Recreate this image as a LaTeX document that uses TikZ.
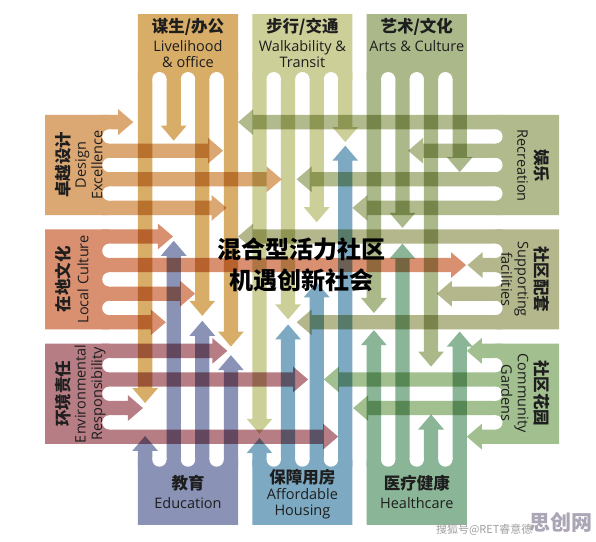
\documentclass[tikz,border=0pt]{standalone}
\usepackage{fontspec}
\setmainfont{Open Sans}
\newfontfamily\cjk{Noto Sans CJK SC}
\usepackage{tikz}
\usetikzlibrary{positioning}

\definecolor{ink}{HTML}{1E1E1E}
\definecolor{cLive}{HTML}{D8AD68}
\definecolor{cWalk}{HTML}{CDCF98}
\definecolor{cArts}{HTML}{ABB98A}
\definecolor{cDesign}{HTML}{DBA772}
\definecolor{cLocal}{HTML}{D99070}
\definecolor{cEnv}{HTML}{B77D85}
\definecolor{cRec}{HTML}{B0BA8C}
\definecolor{cSupp}{HTML}{B3B78B}
\definecolor{cGard}{HTML}{A2BF8F}
\definecolor{cEdu}{HTML}{8A92B6}
\definecolor{cHouse}{HTML}{7DAAC2}
\definecolor{cHealth}{HTML}{8AB596}
\definecolor{wmark}{HTML}{ABA5B5}

% arrow head length / half width
\def\hl{1.05}
\def\hw{0.9}

\begin{document}
\begin{tikzpicture}[
  x=14.3pt, y=-14.3pt,
  zh/.style={font=\cjk\bfseries\fontsize{16.5}{18}\selectfont, text=ink, inner sep=0pt},
  en/.style={font=\fontsize{14.5}{16.5}\selectfont, text=ink, align=center, inner sep=0pt},
  hub/.style={font=\cjk\bfseries\fontsize{24}{31}\selectfont, text=black, align=center, inner sep=0pt}
]
\fill[white] (-9.65,-8.04) rectangle (32.03,29.86);

\begin{scope}[blend mode=multiply]
% top combs, arrows down
\begin{scope}[transparency group]
  \fill[cLive] (0,-7.05) rectangle (7,-2.5);
  \foreach \p/\e in {0/20.15,2/1.8,4/14.05,6/16.2}
    \fill[cLive] (\p,-3) rectangle (\p+1,\e-\hl) (\p+0.5-\hw,\e-\hl) -- (\p+0.5+\hw,\e-\hl) -- (\p+0.5,\e) -- cycle;
  \foreach \p in {1,3,5} \fill[white] (\p+0.5,-2.5) circle (0.5);
\end{scope}
\begin{scope}[transparency group]
  \fill[cWalk] (8,-7.05) rectangle (15,-2.5);
  \foreach \p/\e in {8/22.3,10/14.3,12/7.5,14/1.9}
    \fill[cWalk] (\p,-3) rectangle (\p+1,\e-\hl) (\p+0.5-\hw,\e-\hl) -- (\p+0.5+\hw,\e-\hl) -- (\p+0.5,\e) -- cycle;
  \foreach \p in {9,11,13} \fill[white] (\p+0.5,-2.5) circle (0.5);
\end{scope}
\begin{scope}[transparency group]
  \fill[cArts] (16,-7.05) rectangle (23,-2.5);
  \foreach \p/\e in {16/13.85,18/7.9,20/17.6,22/4.0}
    \fill[cArts] (\p,-3) rectangle (\p+1,\e-\hl) (\p+0.5-\hw,\e-\hl) -- (\p+0.5+\hw,\e-\hl) -- (\p+0.5,\e) -- cycle;
  \foreach \p in {17,19,21} \fill[white] (\p+0.5,-2.5) circle (0.5);
\end{scope}

% bottom combs, arrows up
\begin{scope}[transparency group]
  \fill[cEdu] (0,24.1) rectangle (7,28.67);
  \foreach \p/\e in {0/22.45,2/8.8,4/14.4,6/16.8}
    \fill[cEdu] (\p,\e+\hl) rectangle (\p+1,24.6) (\p+0.5-\hw,\e+\hl) -- (\p+0.5+\hw,\e+\hl) -- (\p+0.5,\e) -- cycle;
  \foreach \p in {1,3,5} \fill[white] (\p+0.5,24.1) circle (0.5);
\end{scope}
\begin{scope}[transparency group]
  \fill[cHouse] (8,24.1) rectangle (15,28.67);
  \foreach \p/\e in {8/22.6,10/14.65,12/11.7,14/2.15}
    \fill[cHouse] (\p,\e+\hl) rectangle (\p+1,24.6) (\p+0.5-\hw,\e+\hl) -- (\p+0.5+\hw,\e+\hl) -- (\p+0.5,\e) -- cycle;
  \foreach \p in {9,11,13} \fill[white] (\p+0.5,24.1) circle (0.5);
\end{scope}
\begin{scope}[transparency group]
  \fill[cHealth] (16,24.1) rectangle (23,28.67);
  \foreach \p/\e in {16/15.05,18/9.0,20/20.95,22/15.15}
    \fill[cHealth] (\p,\e+\hl) rectangle (\p+1,24.6) (\p+0.5-\hw,\e+\hl) -- (\p+0.5+\hw,\e+\hl) -- (\p+0.5,\e) -- cycle;
  \foreach \p in {17,19,21} \fill[white] (\p+0.5,24.1) circle (0.5);
\end{scope}

% left combs, arrows right
\begin{scope}[transparency group]
  \fill[cDesign] (-6.5,0) rectangle (-2,7);
  \foreach \p/\e in {0/-0.33,2/5.95,4/10.05,6/6.2}
    \fill[cDesign] (-2.5,\p) rectangle (\e-\hl,\p+1) (\e-\hl,\p+0.5-\hw) -- (\e-\hl,\p+0.5+\hw) -- (\e,\p+0.5) -- cycle;
  \foreach \p in {1,3,5} \fill[white] (-2,\p+0.5) circle (0.5);
\end{scope}
\begin{scope}[transparency group]
  \fill[cLocal] (-6.5,8) rectangle (-2,15);
  \foreach \p/\e in {8/2.45,10/22.95,12/4.0,14/1.95}
    \fill[cLocal] (-2.5,\p) rectangle (\e-\hl,\p+1) (\e-\hl,\p+0.5-\hw) -- (\e-\hl,\p+0.5+\hw) -- (\e,\p+0.5) -- cycle;
  \foreach \p in {9,11,13} \fill[white] (-2,\p+0.5) circle (0.5);
\end{scope}
\begin{scope}[transparency group]
  \fill[cEnv] (-6.5,16) rectangle (-2,23);
  \foreach \p/\e in {16/6.25,18/11.9,20/0.35,22/14.0}
    \fill[cEnv] (-2.5,\p) rectangle (\e-\hl,\p+1) (\e-\hl,\p+0.5-\hw) -- (\e-\hl,\p+0.5+\hw) -- (\e,\p+0.5) -- cycle;
  \foreach \p in {17,19,21} \fill[white] (-2,\p+0.5) circle (0.5);
\end{scope}

% right combs, arrows left
\begin{scope}[transparency group]
  \fill[cRec] (25,0) rectangle (29.45,7);
  \foreach \p/\e in {0/7.0,2/18.9,4/11.1,6/15.0}
    \fill[cRec] (\e+\hl,\p) rectangle (25.5,\p+1) (\e+\hl,\p+0.5-\hw) -- (\e+\hl,\p+0.5+\hw) -- (\e,\p+0.5) -- cycle;
  \foreach \p in {1,3,5} \fill[white] (25,\p+0.5) circle (0.5);
\end{scope}
\begin{scope}[transparency group]
  \fill[cSupp] (25,8) rectangle (29.45,15);
  \foreach \p/\e in {8/7.0,10/23.05,12/20.9,14/11.1}
    \fill[cSupp] (\e+\hl,\p) rectangle (25.5,\p+1) (\e+\hl,\p+0.5-\hw) -- (\e+\hl,\p+0.5+\hw) -- (\e,\p+0.5) -- cycle;
  \foreach \p in {9,11,13} \fill[white] (25,\p+0.5) circle (0.5);
\end{scope}
\begin{scope}[transparency group]
  \fill[cGard] (25,16) rectangle (29.45,23);
  \foreach \p/\e in {16/23.0,18/13.0,20/15.05,22/23.0}
    \fill[cGard] (\e+\hl,\p) rectangle (25.5,\p+1) (\e+\hl,\p+0.5-\hw) -- (\e+\hl,\p+0.5+\hw) -- (\e,\p+0.5) -- cycle;
  \foreach \p in {17,19,21} \fill[white] (25,\p+0.5) circle (0.5);
\end{scope}
\end{scope}

% labels
\node[zh] (liveZh) at (3.5,-6.15) {谋生/办公};
\node[en, below=4pt of liveZh] (liveEn) {Livelihood\\\& office};
\node[zh] (walkZh) at (11.5,-6.15) {步行/交通};
\node[en, below=4pt of walkZh] (walkEn) {Walkability \&\\Transit};
\node[zh] (artsZh) at (19.5,-6.15) {艺术/文化};
\node[en, below=4pt of artsZh] (artsEn) {Arts \& Culture};

\node[zh] (eduZh) at (3.5,25.73) {教育};
\node[en] (eduEn) at (3.5,27.13) {Education};
\node[zh] (houseZh) at (11.5,25.31) {保障用房};
\node[en] (houseEn) at (11.5,27.2) {Affordable\\Housing};
\node[zh] (healthZh) at (19.5,25.73) {医疗健康};
\node[en] (healthEn) at (19.5,27.13) {Healthcare};

\node[zh, rotate=90] (designZh) at (-5.25,3.5) {卓越设计};
\node[en, rotate=90] (designEn) at (-3.43,3.5) {Design\\Excellence};
\node[zh, rotate=90] (localZh) at (-5.25,11.5) {在地文化};
\node[en, rotate=90] (localEn) at (-3.85,11.5) {Local Culture};
\node[zh, rotate=90] (envZh) at (-5.25,19.5) {环境责任};
\node[en, rotate=90] (envEn) at (-3.35,19.5) {Environmental\\Responsibility};

\node[zh, rotate=-90] (recZh) at (28.25,3.55) {娱乐};
\node[en, rotate=-90] (recEn) at (26.9,3.55) {Recreation};
\node[zh, rotate=-90] (suppZh) at (28.25,11.5) {社区配套};
\node[en, rotate=-90] (suppEn) at (26.36,11.5) {Supporting\\facilities};
\node[zh, rotate=-90] (gardZh) at (28.25,19.45) {社区花园};
\node[en, rotate=-90] (gardEn) at (26.36,19.45) {Community\\Gardens};

\node[hub] (hub) at (11.45,10.5) {混合型活力社区\\机遇创新社会};

% watermark
\node[font=\cjk\fontsize{11}{11}\selectfont, text=gray!75, anchor=west] (wmText) at (20.6,29.0) {搜狐号@RET睿意德};
\node[font=\cjk\bfseries\fontsize{21}{21}\selectfont, text=wmark] (wmLogo) at (29.6,28.5) {思创网};
\end{tikzpicture}
\end{document}
